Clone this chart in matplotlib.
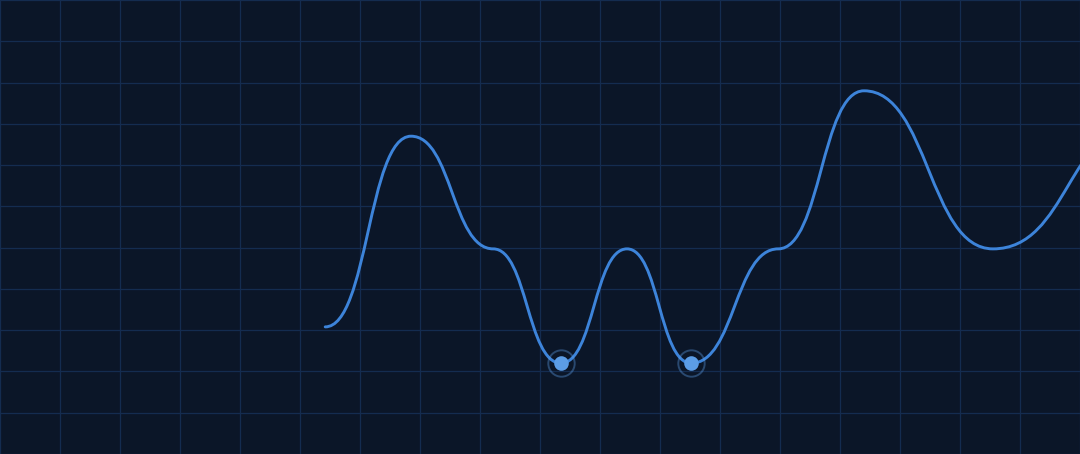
import numpy as np
import matplotlib
matplotlib.use("Agg")
import matplotlib.pyplot as plt
from matplotlib.path import Path
from matplotlib.patches import PathPatch

# Data (grid units: one vertical grid column = 1 x-unit, one horizontal band = 1 y-unit)
x_vals = [5.42, 6.85, 8.22, 9.35, 10.45, 11.52, 12.97, 14.40, 16.55, 19.05]
y_vals = [3.08, 7.70, 4.97, 2.20, 4.97, 2.20, 4.97, 8.80, 4.97, 8.02]
highlight_idx = [3, 5]

x_grid = np.arange(0, 19, 1)
y_grid = np.arange(0, 12, 1)

BG = "#0b1628"
GRID = "#142c50"
LINE = "#3d84da"
DOT = "#5c9de6"

fig = plt.figure(figsize=(10.8, 4.54), dpi=100)
fig.patch.set_facecolor(BG)
ax = fig.add_axes([0, 0, 1, 1])
ax.set_facecolor(BG)
ax.set_xlim(0, 18)
ax.set_ylim(0, 11)
for s in ax.spines.values():
    s.set_visible(False)
ax.set_xticks([])
ax.set_yticks([])

for gx in x_grid:
    ax.axvline(gx, color=GRID, lw=0.9, zorder=1)
for gy in y_grid:
    ax.axhline(gy, color=GRID, lw=0.9, zorder=1)

# Bump-X curve (horizontal tangents at each data point)
verts = [(x_vals[0], y_vals[0])]
codes = [Path.MOVETO]
for i in range(len(x_vals) - 1):
    x0, y0 = x_vals[i], y_vals[i]
    x1, y1 = x_vals[i + 1], y_vals[i + 1]
    xm = (x0 + x1) / 2
    verts += [(xm, y0), (xm, y1), (x1, y1)]
    codes += [Path.CURVE4] * 3
patch = PathPatch(Path(verts, codes), facecolor="none", edgecolor=LINE,
                  lw=2.1, capstyle="round", joinstyle="round", zorder=3)
ax.add_patch(patch)

hx = [x_vals[i] for i in highlight_idx]
hy = [y_vals[i] for i in highlight_idx]
ax.plot(hx, hy, "o", ms=19, mfc="none", mec=DOT, mew=1.4, alpha=0.38, zorder=4)
ax.plot(hx, hy, "o", ms=10.5, mfc=DOT, mec="none", zorder=5)

fig.savefig("out.png", dpi=100, facecolor=BG)
